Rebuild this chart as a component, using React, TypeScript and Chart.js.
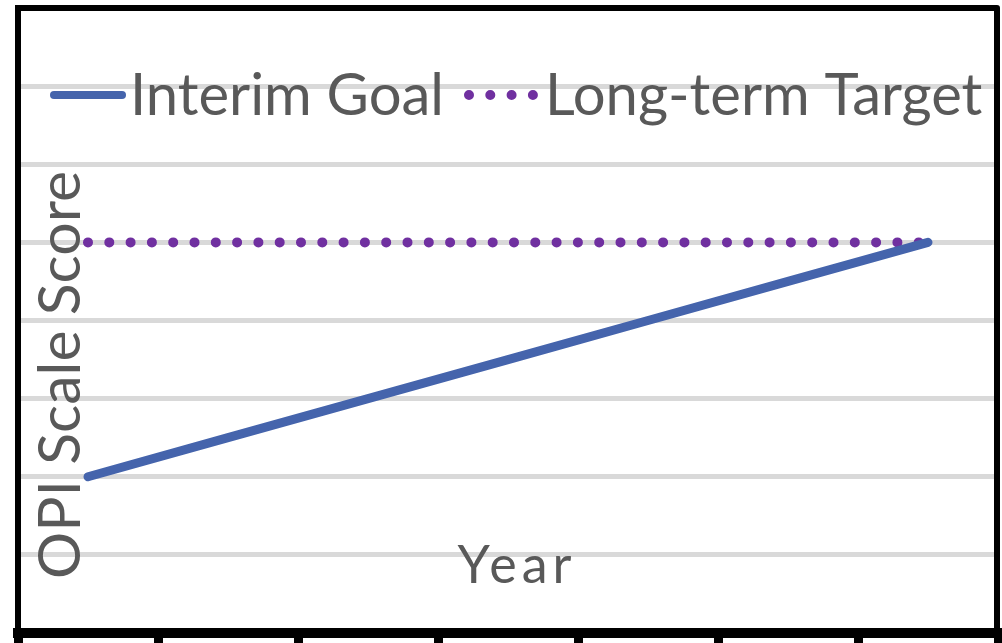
import React, { useEffect, useRef } from "react";
import { Chart, registerables } from "chart.js";

Chart.register(...registerables);

const categories = ["1", "2", "3", "4", "5", "6", "7"];
const interimGoal = [2, 2.5, 3, 3.5, 4, 4.5, 5];
const longTermTarget = [5, 5, 5, 5, 5, 5, 5];
const seriesNames = ["Interim Goal", "Long-term Target"];
const yAxisTitle = "OPI Scale Score";
const xAxisTitle = "Year";

const TEXT_COLOR = "#595959";
const FONT = "Lato, 'Open Sans', sans-serif";

const overlayPlugin = {
  id: "overlay",
  afterDraw(chart: any) {
    const { ctx, chartArea } = chart;
    const ds = chart.data.datasets;
    ctx.save();
    // top & right frame
    ctx.strokeStyle = "#000";
    ctx.lineWidth = 6;
    ctx.lineJoin = "round";
    ctx.beginPath();
    ctx.moveTo(chartArea.left, chartArea.top);
    ctx.lineTo(chartArea.right - 1, chartArea.top);
    ctx.lineTo(chartArea.right - 1, chartArea.bottom);
    ctx.stroke();

    // legend
    ctx.lineCap = "round";
    ctx.strokeStyle = ds[0].borderColor;
    ctx.lineWidth = 8;
    ctx.beginPath();
    ctx.moveTo(54, 95);
    ctx.lineTo(122, 95);
    ctx.stroke();

    ctx.strokeStyle = ds[1].borderColor;
    ctx.lineWidth = 10;
    ctx.setLineDash([0, 21.3]);
    ctx.beginPath();
    ctx.moveTo(469, 95);
    ctx.lineTo(534, 95);
    ctx.stroke();
    ctx.setLineDash([]);

    ctx.fillStyle = TEXT_COLOR;
    ctx.textBaseline = "alphabetic";
    ctx.textAlign = "left";
    ctx.font = `58px ${FONT}`;
    ctx.fillText(ds[0].label, 130, 115);
    ctx.fillText(ds[1].label, 545, 115);

    // y title
    ctx.save();
    ctx.translate(80, 375);
    ctx.rotate(-Math.PI / 2);
    ctx.textAlign = "center";
    ctx.font = `59px ${FONT}`;
    ctx.fillText(yAxisTitle, 0, 0);
    ctx.restore();

    // x title
    ctx.textAlign = "center";
    ctx.font = `52px ${FONT}`;
    (ctx as any).letterSpacing = "5px";
    ctx.fillText(xAxisTitle, 517, 583);
    (ctx as any).letterSpacing = "0px";
    ctx.restore();
  },
};

export default function App() {
  const ref = useRef<HTMLCanvasElement | null>(null);
  useEffect(() => {
    if (!ref.current) return;
    const chart = new Chart(ref.current, {
      type: "line",
      data: {
        labels: categories,
        datasets: [
          {
            label: seriesNames[0],
            data: interimGoal,
            borderColor: "#4564AC",
            borderWidth: 9,
            borderCapStyle: "round",
            pointRadius: 0,
            tension: 0,
          },
          {
            label: seriesNames[1],
            data: longTermTarget,
            borderColor: "#7030A0",
            borderWidth: 10,
            borderCapStyle: "round",
            borderDash: [0, 21.3],
            pointRadius: 0,
            tension: 0,
          },
        ],
      },
      options: {
        animation: false,
        responsive: true,
        maintainAspectRatio: false,
        layout: { padding: { left: 18, right: 4, top: 8, bottom: 0 } },
        plugins: {
          legend: { display: false },
          tooltip: { enabled: false },
        },
        scales: {
          x: {
            offset: true,
            ticks: { display: false },
            grid: {
              display: true,
              offset: true,
              drawOnChartArea: false,
              drawTicks: true,
              tickLength: 10,
              tickWidth: 9,
              tickColor: "#000",
              color: "#000",
              lineWidth: 9,
            },
            border: { display: true, color: "#000", width: 10 },
          },
          y: {
            min: 0,
            max: 8,
            ticks: { display: false, stepSize: 1 },
            grid: {
              color: "#D9D9D9",
              lineWidth: 5,
              drawTicks: false,
            },
            border: { display: true, color: "#000", width: 6 },
          },
        },
      },
      plugins: [overlayPlugin],
    });
    return () => chart.destroy();
  }, []);
  return (
    <div style={{ position: "absolute", left: 0, top: 0, width: 1002, height: 643 }}>
      <canvas ref={ref} />
    </div>
  );
}
